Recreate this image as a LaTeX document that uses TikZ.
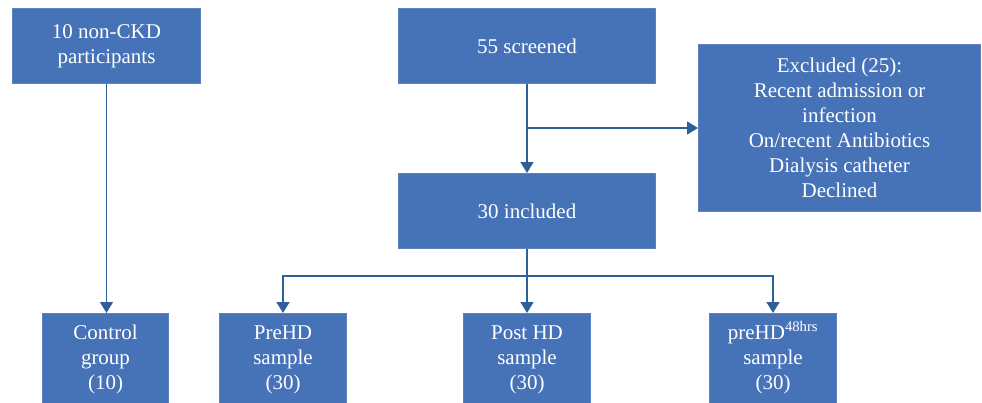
\documentclass[tikz,border=0pt]{standalone}
\usepackage{fontspec}
\setmainfont{Liberation Serif}
\usetikzlibrary{arrows.meta}
\definecolor{boxfill}{HTML}{4672B8}
\definecolor{boxline}{HTML}{5B83C0}
\definecolor{arrowc}{HTML}{2F5F9A}
\tikzset{
  flowbox/.style={rectangle, fill=boxfill, draw=boxline, line width=1pt, text=white,
    align=center, anchor=north west, inner sep=0pt,
    font=\fontsize{21}{25}\selectfont},
  flowarrow/.style={draw=arrowc, line width=1.4pt, -{Triangle[width=13pt,length=11pt]}},
  flowline/.style={draw=arrowc, line width=1.4pt}
}
\begin{document}
\begin{tikzpicture}[x=1pt,y=-1pt]
\useasboundingbox (0,0) rectangle (982,402);
\node[flowbox, minimum width=188pt, minimum height=75pt] (nonckd) at (12,8) {10 non-CKD\\participants};
\node[flowbox, minimum width=257pt, minimum height=75pt] (screen) at (398,8) {55 screened};
\node[flowbox, minimum width=282pt, minimum height=167pt] (excl) at (698,44) {Excluded (25):\\Recent admission or\\infection\\On/recent Antibiotics\\Dialysis catheter\\Declined};
\node[flowbox, minimum width=257pt, minimum height=75pt] (incl) at (398,173) {30 included};
\node[flowbox, minimum width=126pt, minimum height=92pt] (control) at (42,313) {Control\\group\\(10)};
\node[flowbox, minimum width=127pt, minimum height=92pt] (prehd) at (219,313) {PreHD\\sample\\(30)};
\node[flowbox, minimum width=127pt, minimum height=92pt] (posthd) at (463,313) {Post HD\\sample\\(30)};
\node[flowbox, minimum width=127pt, minimum height=92pt] (prehd48) at (709,313) {preHD\smash{\textsuperscript{48hrs}}\\sample\\(30)};
% connectors
\draw[flowarrow] (nonckd.south) -- (control.north -| nonckd.south);
\draw[flowarrow] (screen.south) -- (incl.north);
\draw[flowarrow] (screen.south |- excl.west) -- (excl.west);
\coordinate (split) at ([yshift=-27pt]incl.south);
\draw[flowline] (incl.south) -- (split);
\draw[flowarrow] (split) -| (prehd.north);
\draw[flowarrow] (split) -| (prehd48.north);
\draw[flowarrow] (split) -- (split |- posthd.north);
\end{tikzpicture}
\end{document}
